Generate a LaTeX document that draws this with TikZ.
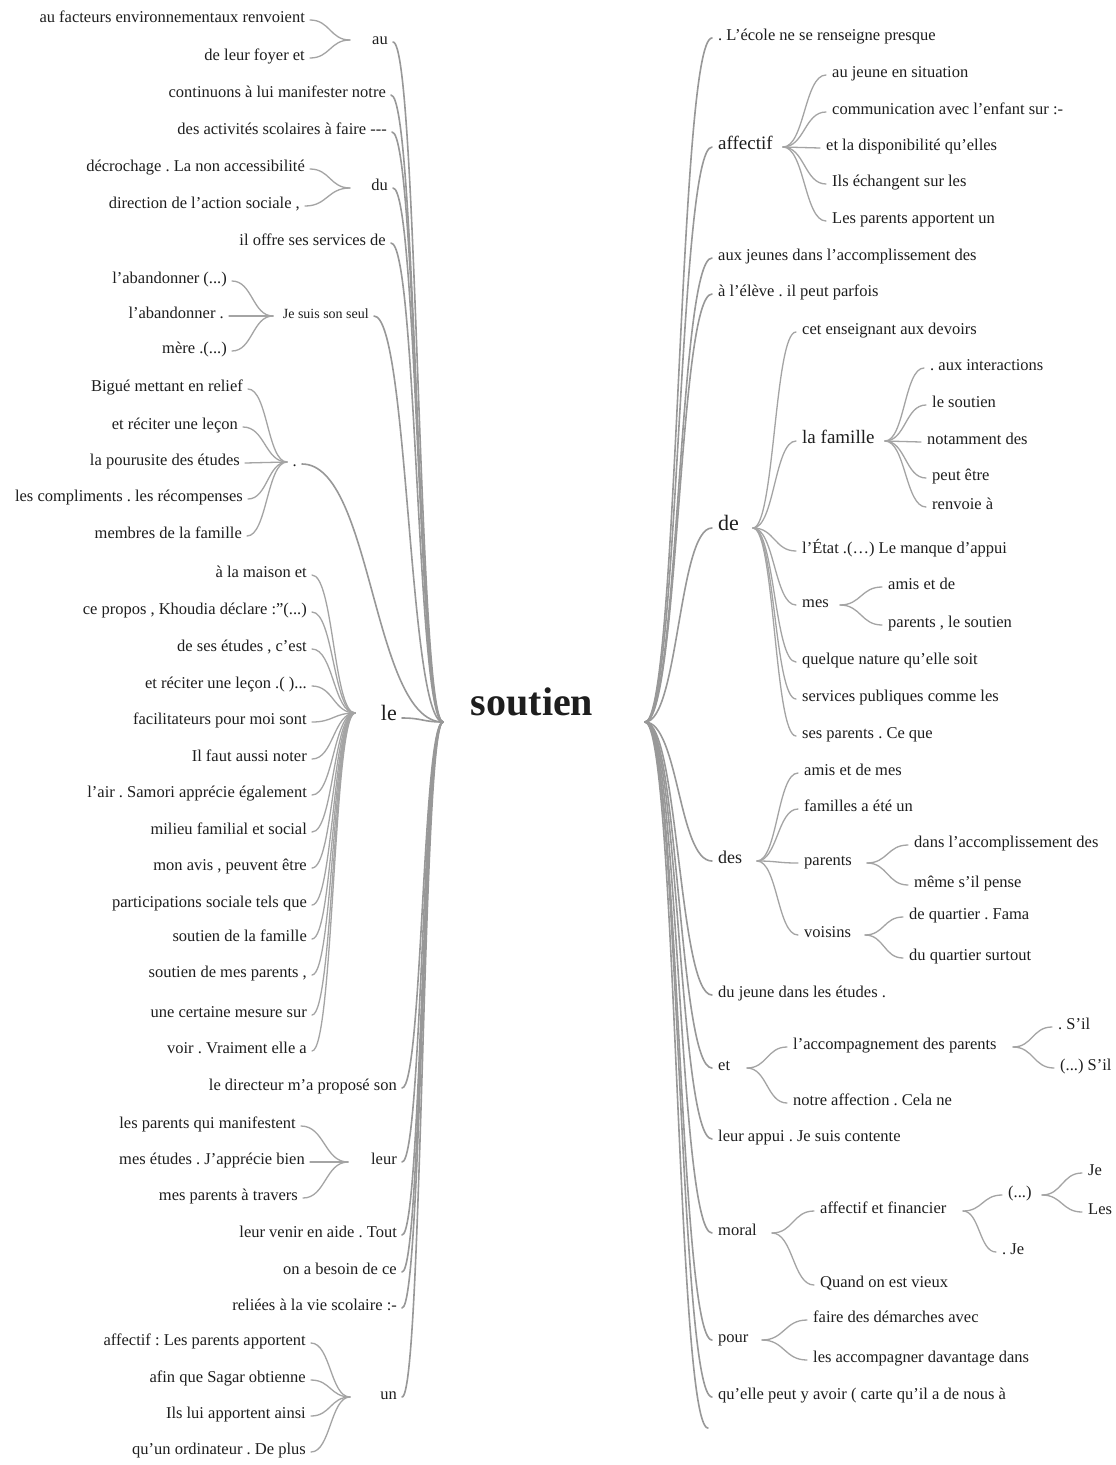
\documentclass[tikz,border=0pt]{standalone}
\usepackage{fontspec}
\setmainfont{Liberation Serif}
\usetikzlibrary{calc}
\definecolor{ink}{HTML}{1E1E1E}
\definecolor{linec}{HTML}{989898}
\definecolor{twigc}{HTML}{A4A4A4}
\frenchspacing
\begin{document}
\begin{tikzpicture}[x=1pt,y=-1pt,
  every node/.style={text=ink, inner ysep=0pt, text height=0.72em, text depth=0.22em},
  lft/.style={anchor=east, inner xsep=5pt},
  rgt/.style={anchor=west, inner xsep=6pt},
  f14/.style={font=\fontsize{14}{16}\selectfont},
  f16/.style={font=\fontsize{16.5}{18}\selectfont},
  f18/.style={font=\fontsize{18}{20}\selectfont},
  f19/.style={font=\fontsize{19}{21}\selectfont},
  f22/.style={font=\fontsize{22}{24}\selectfont},
  trunk/.style={draw=linec, line width=1.6pt, line cap=round},
  twig/.style={draw=twigc, line width=1.3pt, line cap=round},
  wt/.style={to path={let \p1=(\tikztostart), \p2=(\tikztotarget) in
     .. controls ({(\x1+\x2)/2},\y1) and ({(\x1+\x2)/2},\y2) .. (\tikztotarget)}}
]
\useasboundingbox (0,0) rectangle (1116,1465);
\fill[white] (0,0) rectangle (1116,1465);

% centre
\node[font=\fontsize{40}{44}\bfseries, text height=, text depth=] (root) at (532,702) {soutien};
\coordinate (hL) at (443,722);
\coordinate (hR) at (645,722);

% ---------------- left side ----------------
\node[lft,f16] (au) at (393,42) {au};
\node[lft,f16] (au1) at (310,20) {au facteurs environnementaux renvoient};
\node[lft,f16] (au2) at (310,58) {de leur foyer et};
\node[lft,f16] (cont) at (391,95) {continuons à lui manifester notre};
\node[lft,f16] (desact) at (392,132) {des activités scolaires à faire -{}-{}-};
\node[lft,f16] (du) at (393,188) {du};
\node[lft,f16] (decro) at (310,169) {décrochage . La non accessibilité};
\node[lft,f16] (direc) at (305,206) {direction de l'action sociale ,};
\node[lft,f16] (ilof) at (391,243) {il offre ses services de};
\node[lft,f14] (jss) at (374,316) {Je suis son seul};
\node[lft,f16] (ab1) at (232,281) {l'abandonner (...)};
\node[lft,f16] (ab2) at (229,316) {l'abandonner .};
\node[lft,f16] (mere) at (232,351) {mère .(...)};
\node[lft,f16] (dot) at (302,464) {.};
\node[lft,f16] (big) at (248,389) {Bigué mettant en relief};
\node[lft,f16] (rec) at (243,427) {et réciter une leçon};
\node[lft,f16] (pou) at (245,463) {la pourusite des études};
\node[lft,f16] (comp) at (248,499) {les compliments . les récompenses};
\node[lft,f16] (memb) at (247,536) {membres de la famille};
\node[lft,f22] (le) at (402,718) {le};
\node[lft,f16] (l1) at (312,575) {à la maison et};
\node[lft,f16] (l2) at (312,612) {ce propos , Khoudia déclare :"(...)};
\node[lft,f16] (l3) at (312,649) {de ses études , c'est};
\node[lft,f16] (l4) at (312,686) {et réciter une leçon .( )...};
\node[lft,f16] (l5) at (312,722) {facilitateurs pour moi sont};
\node[lft,f16] (l6) at (312,759) {Il faut aussi noter};
\node[lft,f16] (l7) at (312,795) {l'air . Samori apprécie également};
\node[lft,f16] (l8) at (312,832) {milieu familial et social};
\node[lft,f16] (l9) at (312,868) {mon avis , peuvent être};
\node[lft,f16] (l10) at (312,905) {participations sociale tels que};
\node[lft,f16] (l11) at (312,939) {soutien de la famille};
\node[lft,f16] (l12) at (312,975) {soutien de mes parents ,};
\node[lft,f16] (l13) at (312,1015) {une certaine mesure sur};
\node[lft,f16] (l14) at (312,1051) {voir . Vraiment elle a};
\node[lft,f16] (ledir) at (402,1088) {le directeur m'a proposé son};
\node[lft,f16] (leur) at (402,1162) {leur};
\node[lft,f16] (lr1) at (301,1126) {les parents qui manifestent};
\node[lft,f16] (lr2) at (310,1162) {mes études . J'apprécie bien};
\node[lft,f16] (lr3) at (303,1198) {mes parents à travers};
\node[lft,f16] (venir) at (402,1235) {leur venir en aide . Tout};
\node[lft,f16] (besoin) at (402,1272) {on a besoin de ce};
\node[lft,f16] (reli) at (402,1308) {reliées à la vie scolaire :-};
\node[lft,f16] (un) at (402,1397) {un};
\node[lft,f16] (u1) at (311,1343) {affectif : Les parents apportent};
\node[lft,f16] (u2) at (311,1380) {afin que Sagar obtienne};
\node[lft,f16] (u3) at (311,1416) {Ils lui apportent ainsi};
\node[lft,f16] (u4) at (311,1452) {qu'un ordinateur . De plus};

\coordinate (jau) at (350,40);
\coordinate (jdu) at (350,188);
\coordinate (jjss) at (273,316);
\coordinate (jdot) at (287,462);
\coordinate (jle) at (355,713);
\coordinate (jleur) at (348,1162);
\coordinate (jun) at (350,1397);

\foreach \nd in {au,cont,desact,du,ilof,jss,dot,le,ledir,leur,venir,besoin,reli,un}
  \draw[trunk] (hL) to[wt] (\nd.east);
\foreach \nd in {au1,au2} \draw[twig] (jau) to[wt] (\nd.east);
\foreach \nd in {decro,direc} \draw[twig] (jdu) to[wt] (\nd.east);
\foreach \nd in {ab1,ab2,mere} \draw[twig] (jjss) to[wt] (\nd.east);
\foreach \nd in {big,rec,pou,comp,memb} \draw[twig] (jdot) to[wt] (\nd.east);
\foreach \nd in {l1,l2,l3,l4,l5,l6,l7,l8,l9,l10,l11,l12,l13,l14} \draw[twig] (jle) to[wt] (\nd.east);
\foreach \nd in {lr1,lr2,lr3} \draw[twig] (jleur) to[wt] (\nd.east);
\foreach \nd in {u1,u2,u3,u4} \draw[twig] (jun) to[wt] (\nd.east);

% ---------------- right side ----------------
\node[rgt,f16] (ecole) at (712,38) {. L'école ne se renseigne presque};
\node[rgt,f19] (aff) at (712,147) {affectif};
\node[rgt,f16] (af1) at (826,75) {au jeune en situation};
\node[rgt,f16] (af2) at (826,112) {communication avec l'enfant sur :-};
\node[rgt,f16] (af3) at (820,148) {et la disponibilité qu'elles};
\node[rgt,f16] (af4) at (826,184) {Ils échangent sur les};
\node[rgt,f16] (af5) at (826,221) {Les parents apportent un};
\node[rgt,f16] (auxj) at (712,258) {aux jeunes dans l'accomplissement des};
\node[rgt,f16] (eleve) at (712,294) {à l'élève . il peut parfois};
\node[rgt,f22] (de) at (712,528) {de};
\node[rgt,f16] (cet) at (796,332) {cet enseignant aux devoirs};
\node[rgt,f19] (fam) at (796,441) {la famille};
\node[rgt,f16] (fa1) at (924,368) {. aux interactions};
\node[rgt,f16] (fa2) at (926,405) {le soutien};
\node[rgt,f16] (fa3) at (921,442) {notamment des};
\node[rgt,f16] (fa4) at (926,478) {peut être};
\node[rgt,f16] (fa5) at (926,507) {renvoie à};
\node[rgt,f16] (etat) at (796,551) {l'État .(…) Le manque d'appui};
\node[rgt,f16] (mes) at (796,605) {mes};
\node[rgt,f16] (me1) at (882,587) {amis et de};
\node[rgt,f16] (me2) at (882,625) {parents , le soutien};
\node[rgt,f16] (quel) at (796,662) {quelque nature qu'elle soit};
\node[rgt,f16] (serv) at (796,699) {services publiques comme les};
\node[rgt,f16] (sesp) at (796,736) {ses parents . Ce que};
\node[rgt,f18] (des) at (712,861) {des};
\node[rgt,f16] (ds1) at (798,773) {amis et de mes};
\node[rgt,f16] (ds2) at (798,809) {familles a été un};
\node[rgt,f16] (par) at (798,863) {parents};
\node[rgt,f16] (pa1) at (908,845) {dans l'accomplissement des};
\node[rgt,f16] (pa2) at (908,885) {même s'il pense};
\node[rgt,f16] (voi) at (798,935) {voisins};
\node[rgt,f16] (vo1) at (903,917) {de quartier . Fama};
\node[rgt,f16] (vo2) at (903,958) {du quartier surtout};
\node[rgt,f16] (dujeune) at (712,995) {du jeune dans les études .};
\node[rgt,f16] (et) at (712,1068) {et};
\node[rgt,f16] (acc) at (787,1047) {l'accompagnement des parents};
\node[rgt,f16] (ac1) at (1052,1027) {. S'il};
\node[rgt,f16] (ac2) at (1054,1068) {(...) S'il};
\node[rgt,f16] (notre) at (787,1103) {notre affection . Cela ne};
\node[rgt,f16] (lappui) at (712,1139) {leur appui . Je suis contente};
\node[rgt,f16] (moral) at (712,1233) {moral};
\node[rgt,f16] (afin) at (814,1211) {affectif et financier};
\node[rgt,f16] (pp) at (1002,1195) {(...)};
\node[rgt,f16] (pj1) at (1082,1173) {Je};
\node[rgt,f16] (pj2) at (1082,1212) {Les};
\node[rgt,f16] (dje) at (996,1252) {. Je};
\node[rgt,f16] (quand) at (814,1285) {Quand on est vieux};
\node[rgt,f16] (pour) at (712,1340) {pour};
\node[rgt,f16] (po1) at (807,1320) {faire des démarches avec};
\node[rgt,f16] (po2) at (807,1360) {les accompagner davantage dans};
\node[rgt,f16] (quelle) at (712,1397) {qu'elle peut y avoir ( carte qu'il a de nous à};
\coordinate (rend) at (708,1428);

\coordinate (jaff) at (783,147);
\coordinate (jde) at (753,528);
\coordinate (jfam) at (885,441);
\coordinate (jmes) at (840,605);
\coordinate (jdes) at (757,861);
\coordinate (jpar) at (867,863);
\coordinate (jvoi) at (865,935);
\coordinate (jet) at (747,1068);
\coordinate (jacc) at (1013,1047);
\coordinate (jmor) at (772,1233);
\coordinate (jaf) at (963,1211);
\coordinate (jpp) at (1042,1195);
\coordinate (jpour) at (762,1340);

\foreach \nd in {ecole,aff,auxj,eleve,de,des,dujeune,et,lappui,moral,pour,quelle}
  \draw[trunk] (hR) to[wt] (\nd.west);
\draw[trunk] (hR) to[wt] (rend);
\foreach \nd in {af1,af2,af3,af4,af5} \draw[twig] (jaff) to[wt] (\nd.west);
\foreach \nd in {cet,fam,etat,mes,quel,serv,sesp} \draw[twig] (jde) to[wt] (\nd.west);
\foreach \nd in {fa1,fa2,fa3,fa4,fa5} \draw[twig] (jfam) to[wt] (\nd.west);
\foreach \nd in {me1,me2} \draw[twig] (jmes) to[wt] (\nd.west);
\foreach \nd in {ds1,ds2,par,voi} \draw[twig] (jdes) to[wt] (\nd.west);
\foreach \nd in {pa1,pa2} \draw[twig] (jpar) to[wt] (\nd.west);
\foreach \nd in {vo1,vo2} \draw[twig] (jvoi) to[wt] (\nd.west);
\foreach \nd in {acc,notre} \draw[twig] (jet) to[wt] (\nd.west);
\foreach \nd in {ac1,ac2} \draw[twig] (jacc) to[wt] (\nd.west);
\foreach \nd in {afin,quand} \draw[twig] (jmor) to[wt] (\nd.west);
\foreach \nd in {pp,dje} \draw[twig] (jaf) to[wt] (\nd.west);
\foreach \nd in {pj1,pj2} \draw[twig] (jpp) to[wt] (\nd.west);
\foreach \nd in {po1,po2} \draw[twig] (jpour) to[wt] (\nd.west);
\end{tikzpicture}
\end{document}
